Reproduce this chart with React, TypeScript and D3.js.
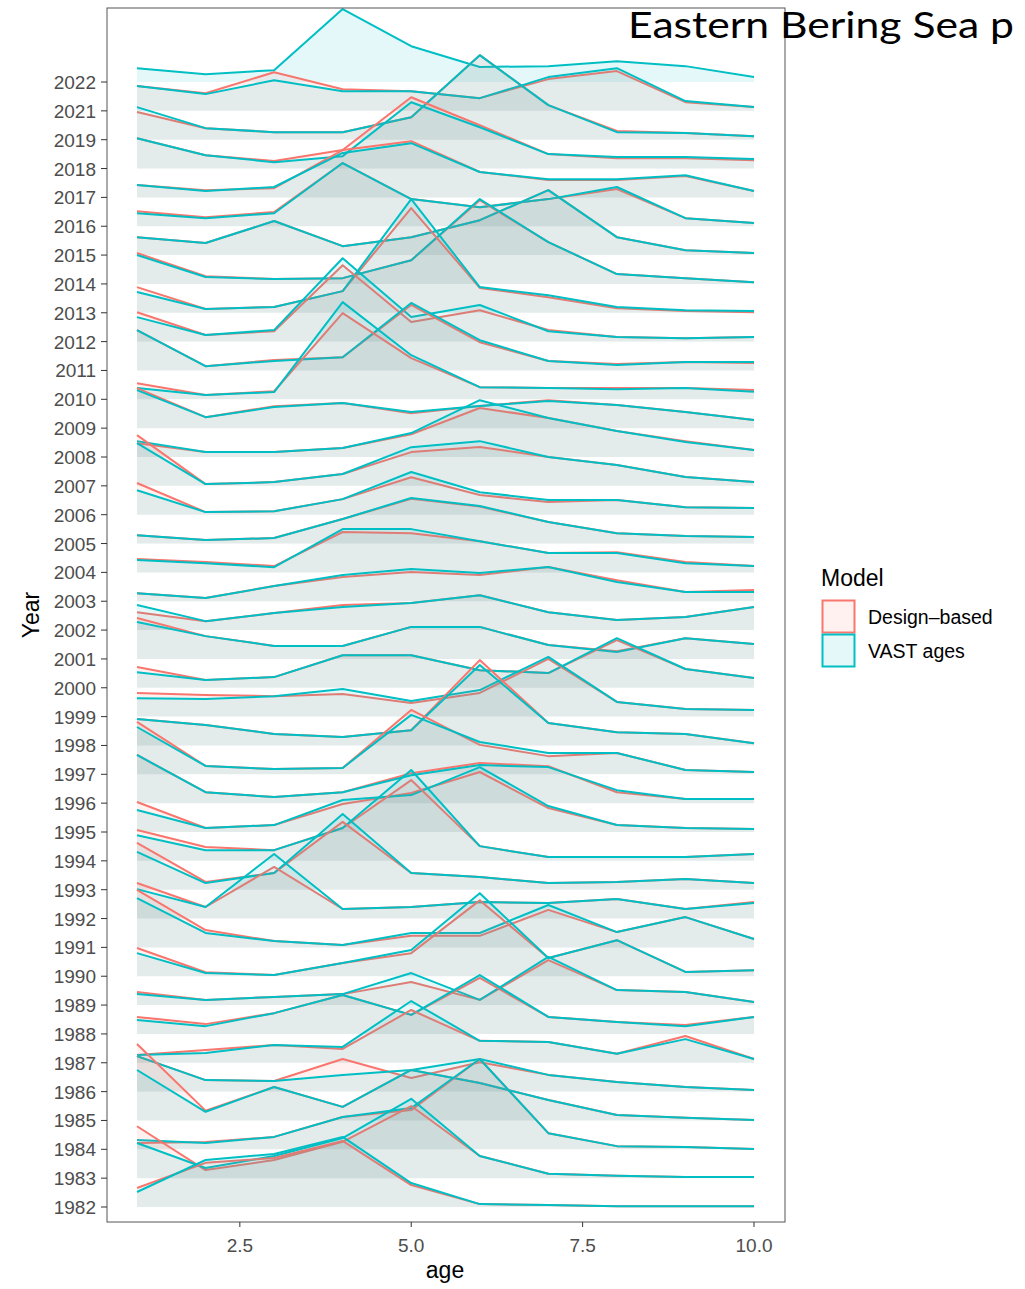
import * as d3 from "d3";

// survey years, top row first (no 2020 survey)
const years = [
  2022, 2021, 2019, 2018, 2017, 2016, 2015, 2014, 2013, 2012, 2011, 2010, 2009,
  2008, 2007, 2006, 2005, 2004, 2003, 2002, 2001, 2000, 1999, 1998, 1997, 1996,
  1995, 1994, 1993, 1992, 1991, 1990, 1989, 1988, 1987, 1986, 1985, 1984, 1983,
  1982,
];

const ages = [1, 2, 3, 4, 5, 6, 7, 8, 9, 10];

// proportion at age (%), VAST ages model
const vast = [
  [4.8, 2.7, 4.1, 25.3, 12.4, 5.2, 5.5, 7.2, 5.5, 1.7],
  [8.6, 5.8, 10.6, 6.8, 6.8, 4.4, 11.7, 14.8, 3.4, 1.3],
  [11.3, 4.0, 2.6, 2.6, 7.8, 29.3, 12.0, 2.6, 2.3, 1.2],
  [10.5, 4.6, 2.2, 4.3, 23.0, 14.3, 5.0, 4.0, 4.0, 3.3],
  [4.3, 2.2, 3.6, 15.4, 18.8, 8.8, 6.3, 6.3, 7.7, 2.2],
  [4.5, 2.8, 4.5, 21.9, 9.4, 6.6, 9.4, 13.6, 2.8, 1.1],
  [6.2, 4.2, 11.8, 3.1, 6.2, 12.1, 22.5, 6.2, 1.7, 0.7],
  [10.0, 2.4, 1.7, 2.0, 8.2, 29.4, 14.5, 3.4, 2.0, 0.6],
  [7.2, 1.3, 2.0, 7.5, 39.4, 8.9, 6.1, 2.0, 0.9, 0.6],
  [8.5, 2.3, 4.0, 28.9, 8.5, 12.7, 3.6, 1.6, 1.2, 1.6],
  [14.0, 1.5, 3.3, 4.6, 23.4, 10.5, 3.3, 1.9, 2.9, 2.9],
  [3.9, 1.5, 2.5, 33.7, 15.3, 4.2, 3.9, 3.5, 3.9, 2.6],
  [13.2, 3.8, 7.3, 8.7, 5.6, 7.7, 9.4, 8.0, 5.6, 2.8],
  [5.5, 1.7, 1.7, 3.1, 8.3, 19.7, 13.5, 9.0, 5.2, 2.4],
  [14.8, 0.6, 1.3, 4.1, 13.4, 15.5, 10.0, 7.2, 3.1, 1.3],
  [8.5, 0.9, 1.2, 5.4, 14.8, 7.8, 5.1, 5.1, 2.6, 2.3],
  [2.9, 1.2, 1.9, 8.5, 15.8, 13.0, 7.5, 3.6, 2.6, 2.3],
  [4.3, 3.2, 1.8, 15.0, 15.0, 10.8, 6.7, 6.7, 3.2, 2.2],
  [2.8, 1.1, 5.3, 9.1, 11.2, 9.8, 11.9, 6.7, 3.2, 3.2],
  [8.7, 3.1, 5.9, 8.0, 9.4, 12.1, 6.2, 3.5, 4.5, 8.0],
  [12.8, 7.9, 4.5, 4.5, 11.1, 11.1, 4.8, 2.4, 7.2, 5.2],
  [5.4, 2.7, 3.7, 11.3, 11.3, 6.1, 5.1, 17.2, 6.5, 3.4],
  [6.4, 6.1, 7.1, 9.6, 5.4, 9.2, 20.7, 5.1, 2.6, 2.3],
  [9.2, 7.1, 4.0, 2.9, 5.3, 27.9, 7.8, 4.6, 4.0, 0.8],
  [16.4, 2.9, 1.8, 2.2, 20.6, 11.2, 7.4, 7.4, 1.5, 0.8],
  [16.7, 3.8, 2.1, 3.8, 9.7, 13.2, 12.5, 4.5, 1.4, 1.4],
  [7.6, 1.4, 2.4, 11.1, 12.8, 22.5, 9.0, 2.4, 1.4, 1.0],
  [8.9, 3.7, 3.7, 11.4, 31.5, 5.1, 1.3, 1.3, 1.3, 2.4],
  [13.1, 2.3, 5.8, 26.2, 5.8, 4.4, 2.3, 2.7, 3.7, 2.3],
  [10.2, 4.0, 22.4, 3.3, 4.0, 5.7, 5.4, 6.8, 3.3, 5.4],
  [17.1, 5.0, 2.2, 0.8, 5.0, 5.0, 14.7, 5.3, 10.5, 2.9],
  [8.0, 1.1, 0.4, 4.6, 9.1, 28.8, 6.3, 12.5, 1.5, 2.1],
  [3.8, 1.8, 2.8, 3.8, 11.1, 1.8, 16.7, 5.2, 4.5, 1.1],
  [4.8, 2.7, 7.2, 13.5, 6.6, 20.4, 5.9, 4.1, 2.7, 5.9],
  [2.7, 3.4, 6.2, 5.5, 21.4, 7.6, 7.2, 3.1, 8.2, 1.3],
  [12.3, 4.0, 3.7, 5.8, 7.5, 11.3, 5.8, 3.3, 1.6, 0.6],
  [17.5, 3.0, 11.6, 4.7, 17.5, 13.0, 7.1, 1.9, 0.9, 0.2],
  [3.2, 2.2, 4.3, 11.2, 14.3, 31.3, 5.6, 1.1, 0.8, 0.1],
  [12.2, 3.5, 7.7, 13.9, 27.5, 7.7, 1.5, 0.8, 0.4, 0.4],
  [5.2, 16.3, 18.4, 24.3, 8.3, 1.0, 0.7, 0.3, 0.3, 0.3],
];

// proportion at age (%), design-based (none for 2022)
const design = [
  null,
  [8.6, 6.1, 13.4, 7.5, 6.8, 4.4, 11.0, 13.8, 3.0, 1.3],
  [9.6, 4.0, 2.6, 2.6, 7.8, 29.3, 12.0, 3.0, 2.3, 1.2],
  [10.5, 4.6, 2.6, 6.4, 24.7, 15.0, 5.0, 3.6, 3.6, 2.9],
  [4.3, 2.5, 3.2, 16.4, 19.5, 8.8, 6.0, 6.0, 7.4, 2.2],
  [5.2, 3.1, 4.9, 21.9, 9.4, 6.6, 9.4, 12.9, 2.8, 1.1],
  [6.2, 4.2, 11.8, 3.1, 6.2, 12.1, 22.5, 6.2, 1.7, 0.7],
  [10.7, 2.7, 1.7, 2.0, 8.2, 29.0, 14.5, 3.4, 2.0, 0.6],
  [8.9, 1.3, 2.0, 7.5, 36.3, 8.6, 5.4, 1.6, 0.6, 0.2],
  [10.2, 2.3, 3.6, 26.5, 6.8, 10.9, 4.0, 1.6, 1.2, 1.6],
  [14.0, 1.5, 3.6, 4.6, 22.7, 9.8, 3.3, 2.2, 2.9, 2.6],
  [5.6, 1.5, 2.8, 29.9, 14.3, 4.2, 3.9, 3.9, 3.9, 3.2],
  [13.9, 3.8, 7.6, 8.7, 5.2, 7.7, 9.7, 8.0, 5.6, 2.8],
  [4.8, 1.7, 1.7, 3.1, 7.9, 17.0, 13.5, 9.0, 5.5, 2.4],
  [17.6, 0.6, 1.3, 4.1, 11.7, 13.5, 10.0, 7.2, 3.1, 1.3],
  [11.0, 0.9, 1.2, 5.4, 13.0, 6.8, 4.4, 5.1, 2.6, 2.3],
  [2.9, 1.2, 1.9, 8.5, 15.5, 12.8, 7.5, 3.6, 2.6, 2.3],
  [4.6, 3.6, 2.2, 14.0, 13.6, 10.8, 6.7, 7.0, 3.6, 2.2],
  [2.8, 1.1, 5.3, 8.4, 10.1, 9.1, 11.9, 7.3, 3.2, 3.9],
  [6.2, 3.1, 5.9, 8.7, 9.4, 12.1, 6.2, 3.5, 4.5, 8.0],
  [14.2, 7.9, 4.5, 4.5, 11.1, 11.1, 4.8, 2.7, 7.2, 5.2],
  [7.2, 2.7, 3.7, 11.3, 11.3, 6.1, 5.1, 16.5, 6.5, 3.4],
  [8.2, 7.5, 7.1, 7.8, 4.7, 8.2, 20.0, 5.1, 2.6, 2.3],
  [9.2, 7.1, 4.0, 2.9, 5.3, 29.6, 7.8, 4.6, 4.0, 0.8],
  [18.2, 2.9, 1.8, 2.2, 22.3, 10.2, 6.3, 7.4, 1.5, 0.8],
  [16.7, 3.8, 2.1, 3.8, 10.4, 13.9, 12.8, 3.8, 1.4, 1.4],
  [10.4, 1.4, 2.4, 9.7, 13.5, 20.8, 8.3, 2.4, 1.4, 1.0],
  [10.7, 4.8, 3.7, 11.4, 28.0, 5.1, 1.3, 1.3, 1.3, 2.4],
  [16.2, 2.7, 5.8, 23.5, 5.8, 4.4, 2.3, 2.7, 3.7, 2.3],
  [12.3, 4.0, 17.9, 3.3, 4.0, 5.7, 5.4, 6.8, 3.3, 5.7],
  [19.9, 6.0, 2.2, 0.8, 4.0, 4.0, 13.0, 5.3, 10.5, 2.9],
  [9.8, 1.4, 0.4, 4.6, 8.0, 26.3, 6.3, 12.5, 1.5, 2.1],
  [4.5, 1.8, 2.8, 3.8, 8.0, 1.8, 15.6, 5.2, 4.5, 1.1],
  [5.9, 3.4, 7.2, 13.5, 6.6, 19.4, 5.9, 4.1, 3.1, 5.9],
  [2.7, 4.4, 6.2, 4.8, 18.3, 7.6, 7.2, 3.1, 9.3, 1.3],
  [12.3, 4.0, 3.7, 11.3, 4.7, 10.2, 5.8, 3.3, 1.6, 0.6],
  [26.5, 3.4, 11.6, 4.7, 17.5, 13.0, 7.1, 1.9, 0.9, 0.2],
  [2.2, 2.5, 4.3, 11.2, 13.6, 31.3, 5.6, 1.1, 0.8, 0.1],
  [18.0, 2.8, 6.3, 12.6, 25.0, 7.7, 1.5, 0.8, 0.4, 0.4],
  [6.6, 15.3, 17.0, 22.9, 7.6, 1.0, 0.7, 0.3, 0.3, 0.3],
];

const xTicks = [2.5, 5.0, 7.5, 10.0];

const models = ["Design\u2013based", "VAST ages"];
const modelColors = ["#F8766D", "#00BFC4"];

const width = 1025;
const height = 1289;
const panel = { left: 107, right: 785, top: 8, bottom: 1222 };

export default function App() {
  const x = d3.scaleLinear([1, 10], [137, 754]);
  // ascending years for the y scale, 1982 at the bottom
  const y = d3.scalePoint(years.slice().reverse().map(String), [1207, 82]);
  const step = y.step();
  // 10 % of catch = one row of height
  const h = d3.scaleLinear([0, 10], [0, step]);

  const ridges: { key: string; d: number[]; m: number; base: number }[] = [];
  years.forEach((yr, i) => {
    const base = y(String(yr))!;
    const dsn = design[i];
    if (dsn) ridges.push({ key: yr + "d", d: dsn, m: 0, base });
    ridges.push({ key: yr + "v", d: vast[i], m: 1, base });
  });

  const tickFont = "'Liberation Sans', Arial, sans-serif";

  return (
    <svg
      width={width}
      height={height}
      style={{ position: "absolute", left: 0, top: 0, background: "#fff" }}
    >
      <rect width={width} height={height} fill="#fff" />
      <defs>
        <clipPath id="panel">
          <rect
            x={panel.left}
            y={panel.top}
            width={panel.right - panel.left}
            height={panel.bottom - panel.top}
          />
        </clipPath>
      </defs>

      <g clipPath="url(#panel)">
        {ridges.map((r) => {
          const pts = ages.map((a, j) => [a, r.d[j]] as [number, number]);
          const area = d3
            .area<[number, number]>()
            .x((p) => x(p[0]))
            .y0(r.base)
            .y1((p) => r.base - h(p[1]));
          const line = d3
            .line<[number, number]>()
            .x((p) => x(p[0]))
            .y((p) => r.base - h(p[1]));
          return (
            <g key={r.key}>
              <path d={area(pts)!} fill={modelColors[r.m]} fillOpacity={0.1} />
              <path
                d={line(pts)!}
                fill="none"
                stroke={modelColors[r.m]}
                strokeWidth={2}
                strokeLinejoin="round"
              />
            </g>
          );
        })}
      </g>

      <rect
        x={panel.left}
        y={panel.top}
        width={panel.right - panel.left}
        height={panel.bottom - panel.top}
        fill="none"
        stroke="#555"
        strokeWidth={1}
      />

      {/* y axis */}
      {years.map((yr) => (
        <g key={yr} transform={`translate(0,${y(String(yr))})`}>
          <line x1={101} x2={panel.left} stroke="#333" strokeWidth={1} />
          <text
            x={96}
            y={0.5}
            textAnchor="end"
            dominantBaseline="central"
            fontFamily={tickFont}
            fontSize={19}
            fill="#4d4d4d"
          >
            {yr}
          </text>
        </g>
      ))}

      {/* x axis */}
      {xTicks.map((t) => (
        <g key={t} transform={`translate(${x(t)},0)`}>
          <line y1={panel.bottom} y2={panel.bottom + 5} stroke="#333" />
          <text
            y={1252}
            textAnchor="middle"
            fontFamily={tickFont}
            fontSize={19}
            fill="#4d4d4d"
          >
            {t.toFixed(1)}
          </text>
        </g>
      ))}

      <text
        x={445}
        y={1278}
        textAnchor="middle"
        fontFamily={tickFont}
        fontSize={23}
        fill="#000"
      >
        age
      </text>
      <text
        transform="translate(39,615) rotate(-90)"
        textAnchor="middle"
        fontFamily={tickFont}
        fontSize={23}
        fill="#000"
      >
        Year
      </text>

      {/* legend */}
      <text x={821} y={586} fontFamily={tickFont} fontSize={23} fill="#000">
        Model
      </text>
      {models.map((m, i) => (
        <g key={m} transform={`translate(822,${600 + i * 34})`}>
          <rect
            x={0.5}
            y={0.5}
            width={32}
            height={32}
            fill={modelColors[i]}
            fillOpacity={0.1}
            stroke={modelColors[i]}
            strokeWidth={2}
          />
          <text
            x={46}
            y={17}
            dominantBaseline="central"
            fontFamily={tickFont}
            fontSize={19.5}
            fill="#000"
          >
            {m}
          </text>
        </g>
      ))}

      {/* slide title, running up to the right edge */}
      <text
        x={628}
        y={38}
        fontFamily="Lato, 'Open Sans', sans-serif"
        fontSize={36}
        textLength={386}
        lengthAdjust="spacingAndGlyphs"
        fill="#000"
      >
        Eastern Bering Sea p
      </text>
    </svg>
  );
}
